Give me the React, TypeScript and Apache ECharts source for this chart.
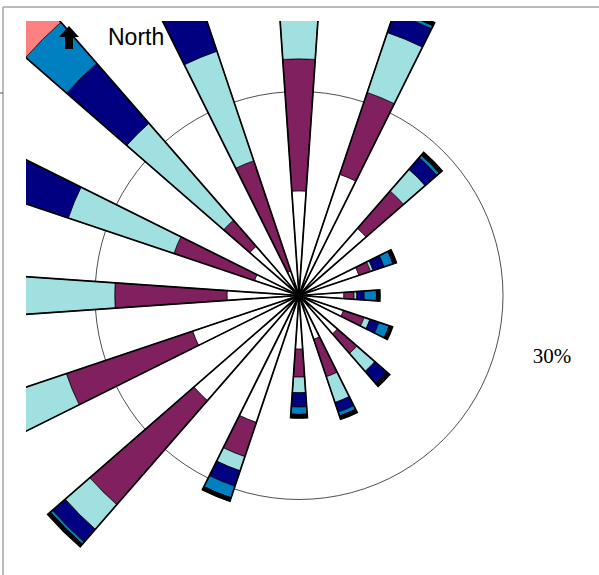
import React, { useEffect, useRef } from "react";
import * as echarts from "echarts";

// Compass sectors, clockwise from north
const directions = ["N", "NNE", "NE", "ENE", "E", "ESE", "SE", "SSE", "S", "SSW", "SW", "WSW", "W", "WNW", "NW", "NNW"];

// Frequency (%) for each speed class, per direction (innermost class first)
const speed1 = [15.4, 18.8, 13.1, 9.3, 6.6, 6.9, 7.5, 6.8, 7.9, 19.7, 20.5, 16.5, 10.6, 6.9, 9.6, 3.8];
const speed2 = [19.4, 12.7, 7.3, 1.8, 1.5, 3.2, 3.8, 5.8, 4.1, 5.3, 20.3, 19.6, 16.5, 12.5, 5.1, 17.1];
const speed3 = [10.2, 9.3, 4.2, 0.4, 0.4, 0.9, 3.5, 4.0, 2.3, 2.2, 4.8, 10.9, 16.9, 16.4, 18.9, 17.0];
const speed4 = [4.0, 3.0, 2.3, 1.7, 1.1, 1.4, 2.4, 1.5, 2.1, 2.4, 2.5, 3.0, 3.0, 10.2, 11.7, 8.1];
const speed5 = [2.0, 0.5, 0.5, 1.4, 1.8, 1.6, 0.0, 0.6, 1.1, 1.8, 0.4, 1.0, 1.0, 1.5, 8.0, 2.0];
const speed6 = [0, 0, 0, 0, 0, 0, 0, 0, 0, 0, 0, 0, 0, 0, 4.7, 0];
const speed7 = [0.5, 0.5, 0.5, 0.5, 0.5, 0.5, 0.5, 0.5, 0.5, 0.5, 0.5, 0.5, 0.5, 0.5, 0.5, 0.5];

const classNames = ["Speed 1", "Speed 2", "Speed 3", "Speed 4", "Speed 5", "Speed 6", "Speed 7"];
const classColors = ["#ffffff", "#80205f", "#a0e0e0", "#000080", "#0080c0", "#ff8080", "#000000"];

// Reference ring
const ringValue = 30;
const ringLabel = "30%";

export default function App() {
  const ref = useRef<HTMLDivElement>(null);

  useEffect(() => {
    if (!ref.current) return;
    const chart = echarts.init(ref.current, undefined, { renderer: "svg" });

    const classes = [speed1, speed2, speed3, speed4, speed5, speed6, speed7];
    const totals = directions.map((_, i) => classes.reduce((s, c) => s + c[i], 0));

    const stacked = classes.map((values, k) => ({
      name: classNames[k],
      type: "bar",
      coordinateSystem: "polar",
      stack: "rose",
      data: values,
      clip: false,
      barCategoryGap: "65%",
      barGap: "-100%",
      itemStyle: { color: classColors[k], borderColor: "#000", borderWidth: 0.7 },
      emphasis: { disabled: true },
      z: 2,
    }));

    // Heavier outline around each full petal
    const outline = {
      name: "outline",
      type: "bar",
      coordinateSystem: "polar",
      data: totals,
      clip: false,
      barCategoryGap: "65%",
      barGap: "-100%",
      itemStyle: { color: "rgba(0,0,0,0)", borderColor: "#000", borderWidth: 1.7 },
      emphasis: { disabled: true },
      z: 3,
    };

    chart.setOption({
      animation: false,
      backgroundColor: "#ffffff",
      polar: { center: [299, 295.5], radius: 204 },
      angleAxis: {
        type: "category",
        data: directions,
        startAngle: 90 + 360 / directions.length / 2,
        clockwise: true,
        axisLine: { show: true, lineStyle: { color: "#222", width: 0.8 } },
        axisTick: { show: false },
        axisLabel: { show: false },
        splitLine: { show: false },
      },
      radiusAxis: {
        type: "value",
        min: 0,
        max: ringValue,
        interval: ringValue,
        axisLine: { show: false },
        axisTick: { show: false },
        axisLabel: { show: false },
        splitLine: { show: false },
      },
      series: [...stacked, outline],
      graphic: [
        { type: "rect", z: 100, shape: { x: 0, y: 0, width: 26, height: 575 }, style: { fill: "#fff" } },
        { type: "rect", z: 100, shape: { x: 0, y: 0, width: 599, height: 21 }, style: { fill: "#fff" } },
        { type: "line", z: 101, shape: { x1: 3, y1: 7, x2: 599, y2: 7 }, style: { stroke: "#a6a6a6", lineWidth: 1.5 } },
        { type: "line", z: 101, shape: { x1: 3, y1: 7, x2: 3, y2: 575 }, style: { stroke: "#a6a6a6", lineWidth: 1.5 } },
        { type: "line", z: 101, shape: { x1: 0, y1: 93, x2: 3, y2: 93 }, style: { stroke: "#555", lineWidth: 1 } },
        {
          type: "polygon",
          z: 101,
          shape: { points: [[69, 26], [79, 37], [73, 37], [73, 49], [65, 49], [65, 37], [59, 37]] },
          style: { fill: "#000" },
        },
        {
          type: "text",
          z: 101,
          x: 108,
          y: 37,
          style: {
            text: "North",
            fill: "#000",
            font: "23px 'Liberation Sans', Arial, sans-serif",
            textAlign: "left",
            textVerticalAlign: "middle",
          },
        },
        {
          type: "text",
          z: 101,
          x: 552,
          y: 356,
          style: {
            text: ringLabel,
            fill: "#000",
            font: "21px 'Liberation Serif', 'Times New Roman', serif",
            textAlign: "center",
            textVerticalAlign: "middle",
          },
        },
      ],
    });

    return () => chart.dispose();
  }, []);

  return (
    <div
      ref={ref}
      style={{ position: "fixed", left: 0, top: 0, width: 599, height: 575, background: "#fff" }}
    />
  );
}
